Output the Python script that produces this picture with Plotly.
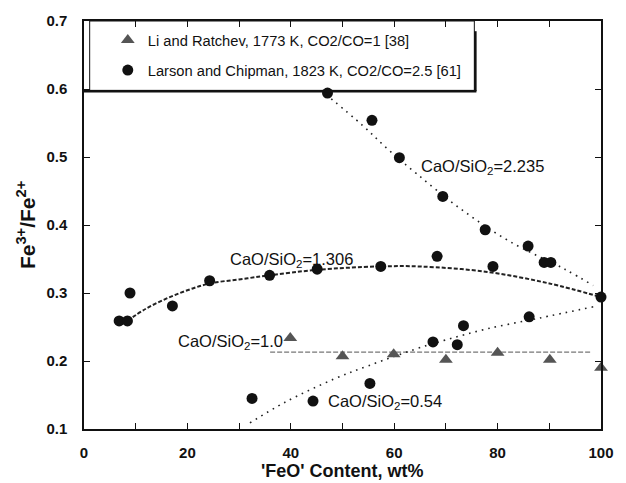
import plotly.graph_objects as go

# Li and Ratchev, 1773 K, CO2/CO=1  (CaO/SiO2 = 1.0)
li_feo = [39.9, 50.0, 59.9, 70.0, 80.0, 90.1, 100.0]
li_ratio = [0.234, 0.207, 0.210, 0.202, 0.212, 0.202, 0.190]

# Larson and Chipman, 1823 K, CO2/CO=2.5
lc_feo = [6.8, 8.4, 8.9, 17.1, 24.3, 35.9, 45.1, 57.4, 68.3, 79.1, 100.0,
          47.1, 55.7, 61.0, 69.4, 77.6, 85.9, 89.0, 90.3,
          32.5, 44.3, 55.3, 67.5, 72.2, 73.4, 86.1]
lc_ratio = [0.259, 0.259, 0.300, 0.281, 0.318, 0.326, 0.335, 0.339, 0.354, 0.339, 0.294,
            0.594, 0.554, 0.499, 0.442, 0.393, 0.369, 0.345, 0.345,
            0.145, 0.141, 0.167, 0.228, 0.224, 0.252, 0.265]

# Trend curves
fit_2235_x = [46.8, 53.8, 58.7, 64.4, 72.8, 82.3, 93.0, 98.5]
fit_2235_y = [0.592, 0.547, 0.512, 0.475, 0.424, 0.376, 0.335, 0.311]

fit_1306_x = [8.4, 12.0, 16.0, 20.0, 24.3, 30.0, 36.0, 45.0, 57.0, 65.0, 78.0, 90.0, 100.0]
fit_1306_y = [0.259, 0.277, 0.292, 0.304, 0.314, 0.320, 0.326, 0.334, 0.339, 0.339, 0.331, 0.314, 0.294]

fit_10_x = [36.0, 98.0]
fit_10_y = [0.213, 0.213]

fit_054_x = [32.1, 38.8, 48.5, 55.0, 63.9, 70.0, 77.8, 88.0, 98.7]
fit_054_y = [0.109, 0.139, 0.174, 0.193, 0.217, 0.231, 0.247, 0.263, 0.280]

FONT = "Liberation Sans, Arial, sans-serif"

fig = go.Figure()

fig.add_trace(go.Scatter(x=fit_2235_x, y=fit_2235_y, mode="lines", line_shape="spline",
                         line=dict(color="#222", width=1.6, dash="1.6px,5px"),
                         showlegend=False, hoverinfo="skip"))
fig.add_trace(go.Scatter(x=fit_1306_x, y=fit_1306_y, mode="lines", line_shape="spline",
                         line=dict(color="#222", width=2, dash="4px,2px"),
                         showlegend=False, hoverinfo="skip"))
fig.add_trace(go.Scatter(x=fit_10_x, y=fit_10_y, mode="lines",
                         line=dict(color="#777", width=1.2, dash="5px,2px"),
                         showlegend=False, hoverinfo="skip"))
fig.add_trace(go.Scatter(x=fit_054_x, y=fit_054_y, mode="lines", line_shape="spline",
                         line=dict(color="#222", width=1.6, dash="1.6px,5px"),
                         showlegend=False, hoverinfo="skip"))

fig.add_trace(go.Scatter(x=li_feo, y=li_ratio, mode="markers",
                         name="Li and Ratchev, 1773 K, CO2/CO=1 [38]",
                         legendgroup="a",
                         marker=dict(symbol="triangle-up", size=12, color="#555555"),
                         cliponaxis=False))
fig.add_trace(go.Scatter(x=lc_feo, y=lc_ratio, mode="markers",
                         name="Larson and Chipman, 1823 K, CO2/CO=2.5 [61]",
                         legendgroup="b",
                         marker=dict(symbol="circle", size=11, color="#111111"),
                         cliponaxis=False))

ann_font = dict(family=FONT, size=16.5, color="#111")
annotations = [
    dict(x=64.8, y=0.485, text="CaO/SiO<sub>2</sub>=2.235", xanchor="left"),
    dict(x=27.9, y=0.348, text="CaO/SiO<sub>2</sub>=1.306", xanchor="left"),
    dict(x=38.8, y=0.228, text="CaO/SiO<sub>2</sub>=1.0", xanchor="right"),
    dict(x=46.8, y=0.139, text="CaO/SiO<sub>2</sub>=0.54", xanchor="left"),
]
for a in annotations:
    a.update(xref="x", yref="y", showarrow=False, font=ann_font, yanchor="middle")

annotations.append(dict(xref="paper", yref="paper", x=-0.112, y=0.5,
                        text="<b>Fe<sup>3+</sup>/Fe<sup>2+</sup></b>", textangle=-90,
                        showarrow=False, font=dict(family=FONT, size=21, color="#111"),
                        xanchor="center", yanchor="middle"))
annotations.append(dict(xref="paper", yref="paper", x=0.5, y=-0.103, yanchor="middle",
                        text="<b>'FeO' Content, wt%</b>", showarrow=False,
                        font=dict(family=FONT, size=18, color="#111")))

# legend frame with drop shadow
shapes = [
    dict(type="rect", xref="paper", yref="paper", x0=0.011, x1=0.755, y0=0.83, y1=1.0,
         line=dict(color="#111", width=1), fillcolor="white", layer="below"),
    dict(type="line", xref="paper", yref="paper", x0=0.757, x1=0.757, y0=0.975, y1=0.828,
         line=dict(color="#111", width=2.5)),
    dict(type="line", xref="paper", yref="paper", x0=0.0, x1=0.759, y0=0.828, y1=0.828,
         line=dict(color="#111", width=2.5)),
]

tick_font = dict(family=FONT, size=15, color="#111", weight="bold")

fig.update_layout(
    width=626, height=483,
    margin=dict(l=84, r=16, t=18, b=54),
    paper_bgcolor="white", plot_bgcolor="white",
    font=dict(family=FONT, color="#111"),
    showlegend=True,
    legend=dict(x=0.046, y=0.993, xanchor="left", yanchor="top",
                bgcolor="rgba(0,0,0,0)", borderwidth=0,
                font=dict(family=FONT, size=14.7, color="#111"),
                tracegroupgap=8, itemclick=False),
    annotations=annotations,
    shapes=shapes,
)

fig.update_xaxes(range=[0, 100], dtick=20, tick0=0, showgrid=False, zeroline=False,
                 showline=True, linecolor="#111", linewidth=1.5, mirror="ticks",
                 ticks="inside", ticklen=6, tickwidth=1.2, tickcolor="#111",
                 minor=dict(dtick=10, ticks="inside", ticklen=6, tickwidth=1.2, tickcolor="#111"),
                 tickfont=tick_font, ticklabelstandoff=9)
fig.update_yaxes(range=[0.1, 0.7], dtick=0.1, tick0=0.1, tickformat=".1f",
                 showgrid=False, zeroline=False,
                 showline=True, linecolor="#111", linewidth=1.5, mirror="ticks",
                 ticks="inside", ticklen=6, tickwidth=1.2, tickcolor="#111",
                 tickfont=tick_font, ticklabelstandoff=12)

fig.write_html("out.html")
